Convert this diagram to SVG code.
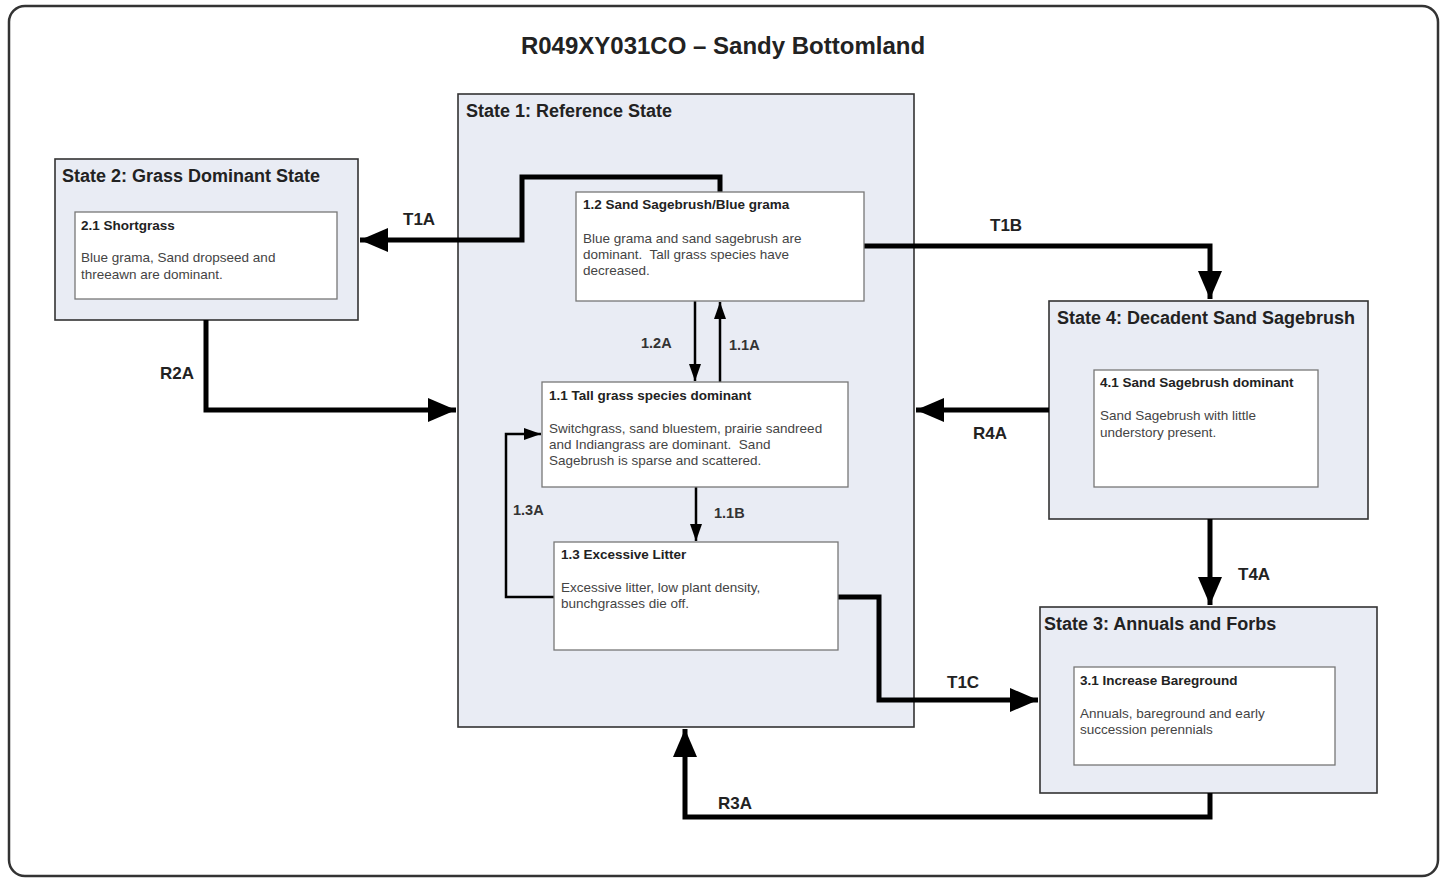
<svg xmlns="http://www.w3.org/2000/svg" width="1446" height="878" viewBox="0 0 1446 878">
<defs>
<style>
.frame{fill:#fff;stroke:#333;stroke-width:2.5}
.state{fill:#e9ecf4;stroke:#333;stroke-width:1.6}
.inner{fill:#fff;stroke:#777;stroke-width:1.3}
.ttl{font-family:"Liberation Sans",Arial,sans-serif;font-weight:bold;font-size:24px;fill:#222}
.st{font-family:"Liberation Sans",Arial,sans-serif;font-weight:bold;font-size:18px;fill:#222}
.bt{font-family:"Liberation Sans",Arial,sans-serif;font-weight:bold;font-size:13.5px;fill:#222}
.bd{font-family:"Liberation Sans",Arial,sans-serif;font-size:13.5px;fill:#444}
.lb{font-family:"Liberation Sans",Arial,sans-serif;font-weight:bold;font-size:17px;fill:#222}
.lbs{font-family:"Liberation Sans",Arial,sans-serif;font-weight:bold;font-size:14.5px;fill:#333}
.thick{fill:none;stroke:#000;stroke-width:5;stroke-linejoin:miter}
.thin{fill:none;stroke:#000;stroke-width:2.5}
</style>
<marker id="big" markerUnits="userSpaceOnUse" markerWidth="30" markerHeight="24" refX="28" refY="12" orient="auto">
<path d="M0,0 L28,12 L0,24 Z" fill="#000"/>
</marker>
<marker id="small" markerUnits="userSpaceOnUse" markerWidth="18" markerHeight="12" refX="17" refY="6" orient="auto">
<path d="M0,0 L17,6 L0,12 Z" fill="#000"/>
</marker>
</defs>
<rect class="frame" x="9" y="6" width="1429" height="870" rx="16"/>
<text class="ttl" x="723" y="54" text-anchor="middle">R049XY031CO – Sandy Bottomland</text>

<g id="state1">
<rect class="state" x="458" y="94" width="456" height="633"/>
<text class="st" x="466" y="117">State 1: Reference State</text>
</g>
<g id="state2">
<rect class="state" x="55" y="159" width="303" height="161"/>
<text class="st" x="62" y="182">State 2: Grass Dominant State</text>
</g>
<g id="state4">
<rect class="state" x="1049" y="301" width="319" height="218"/>
<text class="st" x="1057" y="324">State 4: Decadent Sand Sagebrush</text>
</g>
<g id="state3">
<rect class="state" x="1040" y="607" width="337" height="186"/>
<text class="st" x="1044" y="630">State 3: Annuals and Forbs</text>
</g>

<g id="connectors">
<path class="thick" d="M720,192 V177 H522 V240 H360" marker-end="url(#big)"/>
<path class="thick" d="M864,246 H1210 V299" marker-end="url(#big)"/>
<path class="thick" d="M206,320 V410 H456" marker-end="url(#big)"/>
<path class="thick" d="M1049,410 H916" marker-end="url(#big)"/>
<path class="thick" d="M838,597 H879 V700 H1038" marker-end="url(#big)"/>
<path class="thick" d="M1210,519 V605" marker-end="url(#big)"/>
<path class="thick" d="M1210,793 V817 H685 V729" marker-end="url(#big)"/>
<path class="thin" d="M695,301 V381" marker-end="url(#small)"/>
<path class="thin" d="M720,382 V302" marker-end="url(#small)"/>
<path class="thin" d="M696,487 V541" marker-end="url(#small)"/>
<path class="thin" d="M554,597 H506 V434 H541" marker-end="url(#small)"/>
<text class="lb" x="403" y="225">T1A</text>
<text class="lb" x="990" y="231">T1B</text>
<text class="lb" x="160" y="379">R2A</text>
<text class="lb" x="973" y="439">R4A</text>
<text class="lb" x="947" y="688">T1C</text>
<text class="lb" x="1238" y="580">T4A</text>
<text class="lb" x="718" y="809">R3A</text>
<text class="lbs" x="641" y="348">1.2A</text>
<text class="lbs" x="729" y="350">1.1A</text>
<text class="lbs" x="714" y="518">1.1B</text>
<text class="lbs" x="513" y="515">1.3A</text>
</g>

<g id="box12">
<rect class="inner" x="576" y="192" width="288" height="109"/>
<text class="bt" x="583" y="209">1.2 Sand Sagebrush/Blue grama</text>
<text class="bd" x="583" y="243">Blue grama and sand sagebrush are</text>
<text class="bd" x="583" y="259" xml:space="preserve">dominant.  Tall grass species have</text>
<text class="bd" x="583" y="275">decreased.</text>
</g>
<g id="box11">
<rect class="inner" x="542" y="382" width="306" height="105"/>
<text class="bt" x="549" y="400">1.1 Tall grass species dominant</text>
<text class="bd" x="549" y="433">Switchgrass, sand bluestem, prairie sandreed</text>
<text class="bd" x="549" y="449" xml:space="preserve">and Indiangrass are dominant.  Sand</text>
<text class="bd" x="549" y="465">Sagebrush is sparse and scattered.</text>
</g>
<g id="box13">
<rect class="inner" x="554" y="542" width="284" height="108"/>
<text class="bt" x="561" y="559">1.3 Excessive Litter</text>
<text class="bd" x="561" y="592">Excessive litter, low plant density,</text>
<text class="bd" x="561" y="608">bunchgrasses die off.</text>
</g>
<g id="box21">
<rect class="inner" x="75" y="212" width="262" height="87"/>
<text class="bt" x="81" y="230">2.1 Shortgrass</text>
<text class="bd" x="81" y="262">Blue grama, Sand dropseed and</text>
<text class="bd" x="81" y="279">threeawn are dominant.</text>
</g>
<g id="box41">
<rect class="inner" x="1094" y="370" width="224" height="117"/>
<text class="bt" x="1100" y="387">4.1 Sand Sagebrush dominant</text>
<text class="bd" x="1100" y="420">Sand Sagebrush with little</text>
<text class="bd" x="1100" y="437">understory present.</text>
</g>
<g id="box31">
<rect class="inner" x="1074" y="667" width="261" height="98"/>
<text class="bt" x="1080" y="685">3.1 Increase Bareground</text>
<text class="bd" x="1080" y="718">Annuals, bareground and early</text>
<text class="bd" x="1080" y="734">succession perennials</text>
</g>
</svg>
